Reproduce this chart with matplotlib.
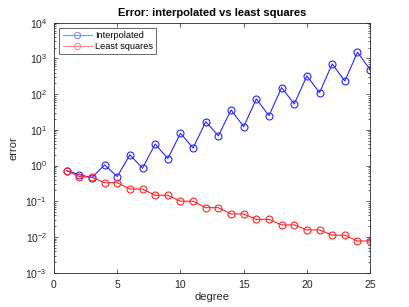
import matplotlib
matplotlib.use("Agg")
import matplotlib.pyplot as plt
from matplotlib.ticker import LogLocator, NullFormatter

degree = list(range(1, 26))
interpolated = [0.72, 0.55, 0.46, 1.04, 0.49, 2.0, 0.84, 4.0, 1.56, 8.0, 3.1, 17, 6.8,
                36, 12.3, 73, 25, 152, 53, 324, 110, 700, 234, 1490, 486]
least_squares = [0.72, 0.49, 0.47, 0.33, 0.33, 0.22, 0.22, 0.147, 0.147, 0.10, 0.10,
                 0.066, 0.066, 0.044, 0.044, 0.031, 0.031, 0.0217, 0.0217, 0.0157,
                 0.0157, 0.0112, 0.0112, 0.0077, 0.0077]
xticks = [0, 5, 10, 15, 20, 25]

plt.rcParams['font.family'] = ['Liberation Sans', 'DejaVu Sans']
fig = plt.figure(figsize=(4.09, 3.07), dpi=100)
ax = fig.add_axes([0.132, 0.112, 0.773, 0.814])

ax.semilogy(degree, interpolated, '-o', color=(0.15, 0.15, 1.0), lw=0.8,
            mfc='none', ms=5, mew=0.8, label='Interpolated')
ax.semilogy(degree, least_squares, '-o', color=(1.0, 0.15, 0.15), lw=0.8,
            mfc='none', ms=5, mew=0.8, label='Least squares')

ax.set_xlim(0, 25)
ax.set_ylim(1e-3, 1e4)
ax.set_xticks(xticks)
ax.yaxis.set_major_locator(LogLocator(base=10, numticks=20))
ax.yaxis.set_minor_locator(LogLocator(base=10, subs=range(2, 10), numticks=20))
ax.yaxis.set_minor_formatter(NullFormatter())

gray = (0.15, 0.15, 0.15)
for s in ax.spines.values():
    s.set_color(gray)
    s.set_linewidth(0.6)
ax.tick_params(which='both', direction='in', top=True, right=True, colors=gray,
               labelsize=7.5, width=0.5)
ax.tick_params(which='major', length=3, pad=5)
ax.tick_params(which='minor', length=1.6)

ax.set_title('Error: interpolated vs least squares', fontsize=8, fontweight='bold', pad=5)
ax.set_xlabel('degree', fontsize=8, color=gray, labelpad=2)
ax.set_ylabel('error', fontsize=8, color=gray, labelpad=5)

leg = ax.legend(loc='upper left', fontsize=6.6, frameon=True, fancybox=False,
                edgecolor=gray, borderaxespad=0.6, handlelength=3.2,
                borderpad=0.35, labelspacing=0.2, handletextpad=0.3, markerscale=0.9)
leg.get_frame().set_linewidth(0.6)
for h, c in zip(leg.legend_handles, [(0.55, 0.55, 1.0), (1.0, 0.55, 0.55)]):
    h.set_color(c)

fig.savefig('out.png', dpi=100)
